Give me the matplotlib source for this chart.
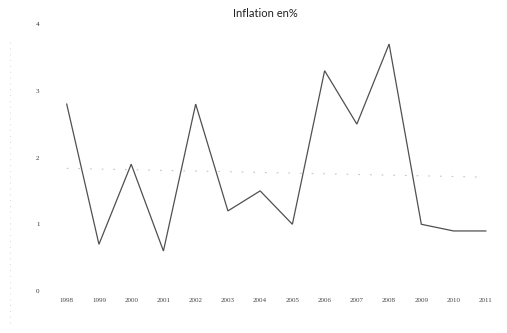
import numpy as np
import matplotlib
matplotlib.use("Agg")
import matplotlib.pyplot as plt
from matplotlib.lines import Line2D

# Inflation rate (%) by year
years = ["1998", "1999", "2000", "2001", "2002", "2003", "2004",
         "2005", "2006", "2007", "2008", "2009", "2010", "2011"]
inflation = [2.8, 0.7, 1.9, 0.6, 2.8, 1.2, 1.5,
             1.0, 3.3, 2.5, 3.7, 1.0, 0.9, 0.9]
y_ticks = [0, 1, 2, 3, 4]
title = "Inflation en%"

fig = plt.figure(figsize=(5.07, 3.33), dpi=100)
ax = fig.add_axes([0.0998, 0.126, 0.8902, 0.802])

x = np.arange(len(years))
ax.plot(x, inflation, color="#505050", lw=0.9, solid_joinstyle="miter")

# linear trend line
coef = np.polyfit(x, inflation, 1)
ax.plot(x, np.polyval(coef, x), color="#c4c4c4", lw=0.8,
        linestyle=(0, (1.5, 9)))

ax.set_xlim(-0.5, len(years) - 0.5)
ax.set_ylim(0, 4)
ax.set_xticks(x)
ax.set_xticklabels(years, fontsize=5, family="Liberation Serif", color="#444444")
ax.set_yticks(y_ticks)
ax.set_yticklabels([str(v) for v in y_ticks], fontsize=5,
                   family="Liberation Serif", color="#333333")
ax.tick_params(axis="both", length=0)
ax.tick_params(axis="y", pad=8)
ax.tick_params(axis="x", pad=5)
for s in ax.spines.values():
    s.set_visible(False)

fig.text(0.524, 0.958, title, ha="center", va="center",
         fontsize=8, family="Lato", color="#222222")

# faint dotted rule along the left margin
fig.add_artist(Line2D([10 / 507, 10 / 507], [0.03, 0.88],
                      transform=fig.transFigure, color="#cccccc",
                      lw=0.6, linestyle=(0, (1, 6))))

fig.savefig("out.png", dpi=100)
